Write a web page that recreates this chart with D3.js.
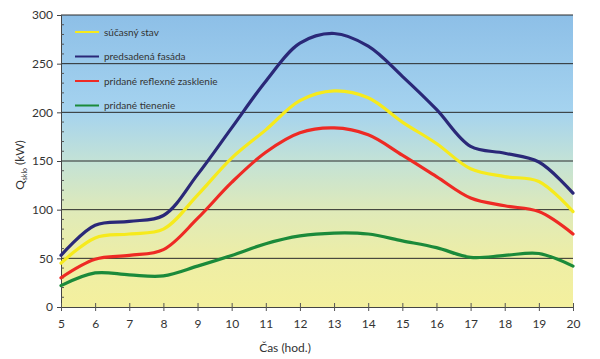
<!DOCTYPE html>
<html><head><meta charset="utf-8">
<script src="https://cdn.jsdelivr.net/npm/d3@7"></script>
<style>body{margin:0;background:#fff}svg{display:block}text{font-family:Lato,"Open Sans",sans-serif;fill:#333}</style>
</head><body><svg id="c" width="600" height="359"></svg>
<script>
const hours = [5,6,7,8,9,10,11,12,13,14,15,16,17,18,19,20];
const seriesNames = ["súčasný stav","predsadená fasáda","pridané reflexné zasklenie","pridané tienenie"];
const currentState = [45,71,75,80,115,153,182,212,222,215,190,168,142,134,129,98];
const facade = [53,84,88,94,136,184,232,271,281,268,237,203,165,158,149,117];
const reflective = [30,49,53,59,91,128,159,179,184,177,156,134,112,104,98,75];
const shading = [22,35,33,32,42,53,65,73,76,75,68,61,51,53,55,42];
const yTicks = [0,50,100,150,200,250,300];
const colors = ["#f6ea1c","#2a2878","#ee2a24","#1b8a3a"];

const svg = d3.select("#c");
const m = {l:61,r:27,t:15,b:52};
const W = 600, H = 359;
const x = d3.scaleLinear().domain([5,20]).range([m.l, W-m.r]);
const y = d3.scaleLinear().domain([0,300]).range([H-m.b, m.t]);

const defs = svg.append("defs");
const g = defs.append("linearGradient").attr("id","bg").attr("x1",0).attr("x2",0).attr("y1",0).attr("y2",1);
[[0,"#8dbfe7"],[0.33,"#a5d3ef"],[0.5,"#c3e2d6"],[0.67,"#dfeab9"],[0.84,"#eeeea5"],[1,"#f4f09e"]]
  .forEach(([o,c])=>g.append("stop").attr("offset",o).attr("stop-color",c));
svg.append("rect").attr("x",x(5)).attr("y",y(300)).attr("width",x(20)-x(5)).attr("height",y(0)-y(300)).attr("fill","url(#bg)");

// gridlines
svg.append("g").selectAll("line").data(yTicks.filter(d=>d>0)).join("line")
  .attr("x1",x(5)).attr("x2",x(20)).attr("y1",d=>y(d)).attr("y2",d=>y(d))
  .attr("stroke","#2a2a2a").attr("stroke-width",1);

// y axis
const ya = svg.append("g").attr("transform",`translate(${x(5)},0)`)
  .call(d3.axisLeft(y).tickValues(yTicks).tickSize(4).tickPadding(4));
ya.select(".domain").attr("stroke","#444");
ya.selectAll(".tick line").attr("stroke","#444");
ya.selectAll("text").attr("font-size",12).style("font-family","Lato,sans-serif").attr("fill","#333");
// minor ticks
svg.append("g").selectAll("line").data(d3.range(10,300,10).filter(d=>d%50)).join("line")
  .attr("x1",x(5)).attr("x2",x(5)+3).attr("y1",d=>y(d)).attr("y2",d=>y(d)).attr("stroke","#555");

// x axis
const xa = svg.append("g").attr("transform",`translate(0,${y(0)})`)
  .call(d3.axisBottom(x).tickValues(hours).tickFormat(d3.format("d")).tickSize(4).tickPadding(8));
xa.select(".domain").attr("stroke","#444");
xa.selectAll(".tick line").attr("y1",-4).attr("stroke","#555");
xa.selectAll("text").attr("font-size",12).style("font-family","Lato,sans-serif").attr("fill","#333");

// lines
const all = [currentState, facade, reflective, shading];
const line = d3.line().x((d,i)=>x(hours[i])).y(d=>y(d)).curve(d3.curveCatmullRom.alpha(0.5));
all.forEach((s,i)=>svg.append("path").attr("d",line(s)).attr("fill","none")
  .attr("stroke",colors[i]).attr("stroke-width",3.2).attr("stroke-linecap","round"));

// legend
const lg = svg.append("g");
seriesNames.forEach((n,i)=>{
  const yy = 32 + i*24.5;
  lg.append("line").attr("x1",75).attr("x2",99).attr("y1",yy).attr("y2",yy).attr("stroke",colors[i]).attr("stroke-width",2);
  lg.append("text").attr("x",104).attr("y",yy+3.5).attr("font-size",10).text(n);
});

// axis titles
svg.append("text").attr("x",285).attr("y",352).attr("text-anchor","middle").attr("font-size",12).text("Čas (hod.)");
const yt = svg.append("text").attr("transform","translate(24,165) rotate(-90)").attr("text-anchor","middle").attr("font-size",12);
yt.append("tspan").text("Q");
yt.append("tspan").attr("font-size",7).attr("dy",3).text("sklo");
yt.append("tspan").attr("dy",-3).text(" (kW)");
</script></body></html>
